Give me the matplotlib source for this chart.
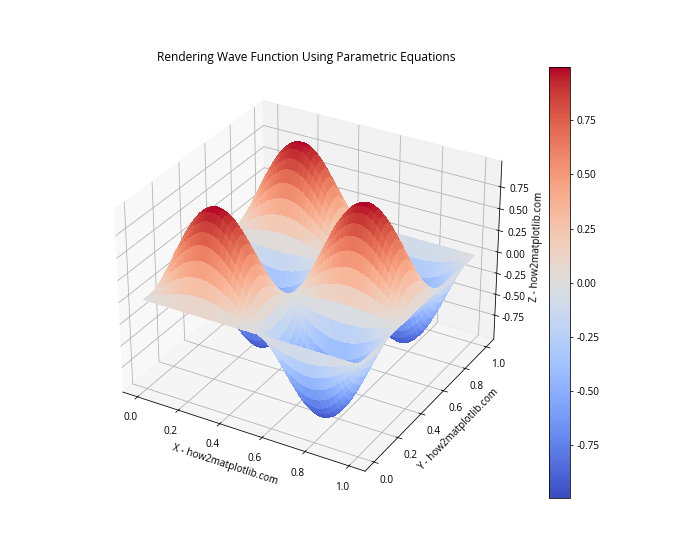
import numpy as np
import matplotlib
matplotlib.use("Agg")
import matplotlib.pyplot as plt

plt.rcParams['font.family'] = ['Open Sans', 'DejaVu Sans']
plt.rcParams['axes.unicode_minus'] = False
plt.rcParams['font.size'] = 10.3
plt.rcParams['axes.titlesize'] = 12.4

title = "Rendering Wave Function Using Parametric Equations"
x_label = "X - how2matplotlib.com"
y_label = "Y - how2matplotlib.com"
z_label = "Z - how2matplotlib.com"
z_ticks = [-0.75, -0.50, -0.25, 0.00, 0.25, 0.50, 0.75]

# Height profile read along the X direction (one full wave)
x_profile = [0.0, 0.125, 0.249, 0.368, 0.482, 0.588, 0.685, 0.771, 0.844, 0.905, 0.951, 0.982, 0.999,
             0.999, 0.982, 0.951, 0.905, 0.844, 0.771, 0.685, 0.588, 0.482, 0.368, 0.249, 0.125, 0.0,
             -0.125, -0.249, -0.368, -0.482, -0.588, -0.685, -0.771, -0.844, -0.905, -0.951, -0.982, -0.999,
             -0.999, -0.982, -0.951, -0.905, -0.844, -0.771, -0.685, -0.588, -0.482, -0.368, -0.249, -0.125, 0.0]
# Height profile read along the Y direction (one and a half waves)
y_profile = [0.0, 0.187, 0.368, 0.536, 0.685, 0.809, 0.905, 0.969, 0.998, 0.992, 0.951, 0.876, 0.771,
             0.637, 0.482, 0.309, 0.125, -0.063, -0.249, -0.426, -0.588, -0.729, -0.844, -0.930, -0.982, -0.999,
             -0.982, -0.930, -0.844, -0.729, -0.588, -0.426, -0.249, -0.063, 0.125, 0.309, 0.482, 0.637,
             0.771, 0.876, 0.951, 0.992, 0.998, 0.969, 0.905, 0.809, 0.685, 0.536, 0.368, 0.187, 0.0]

x_vals = np.linspace(0, 1, len(x_profile))
y_vals = np.linspace(0, 1, len(y_profile))
X, Y = np.meshgrid(x_vals, y_vals)
Z = np.outer(y_profile, x_profile)

fig = plt.figure(figsize=(10, 8), dpi=70)
ax = fig.add_subplot(111, projection='3d')
surf = ax.plot_surface(X, Y, Z, cmap='coolwarm', rcount=51, ccount=51,
                       linewidth=0, antialiased=False)
ax.set_zticks(z_ticks)
ax.set_xlabel(x_label)
ax.set_ylabel(y_label)
ax.set_zlabel(z_label)
ax.set_title(title)
fig.colorbar(surf)
fig.savefig("out.png", dpi=70)
